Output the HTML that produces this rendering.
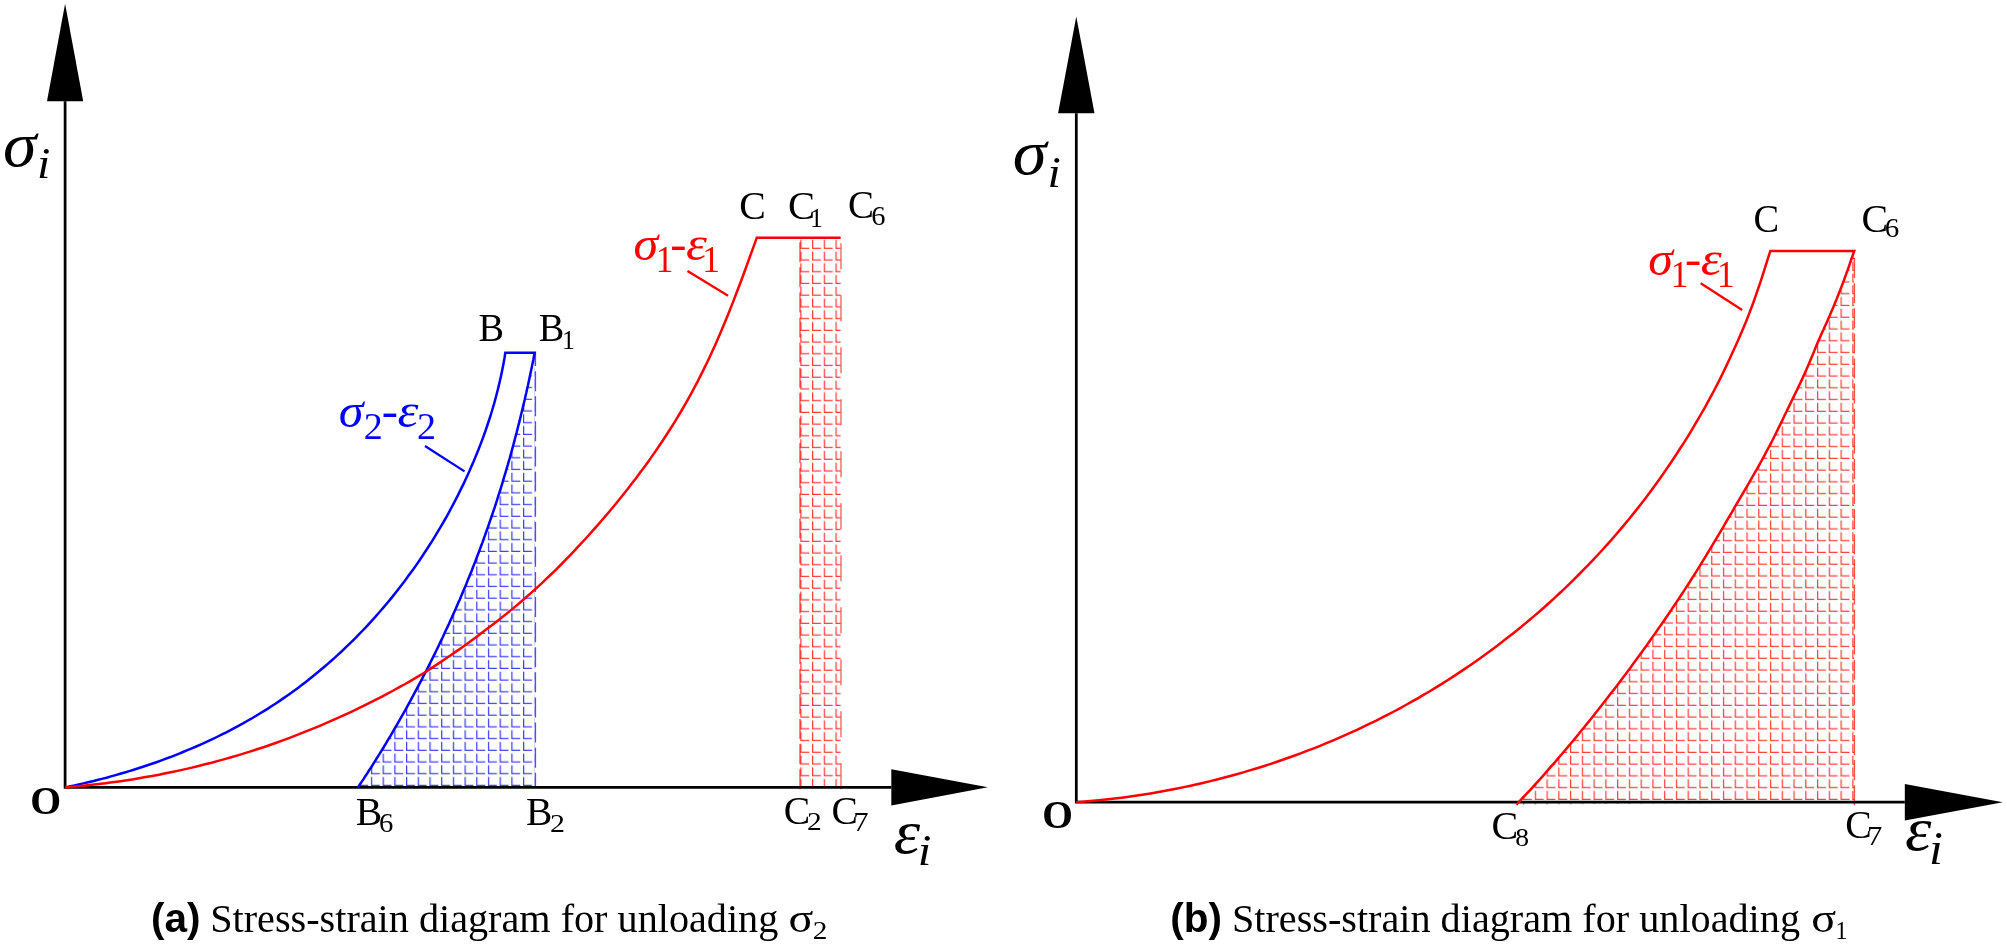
<!DOCTYPE html>
<html lang="en"><head><meta charset="utf-8"><title>Stress-strain diagrams</title>
<style>html,body{margin:0;padding:0;background:#fff;}body{width:2007px;height:945px;overflow:hidden;}svg{display:block;filter:blur(0.3px);}</style>
</head><body>
<svg width="2007" height="945" viewBox="0 0 2007 945" font-family="'Liberation Serif', serif">
<defs>
<pattern id="hb" patternUnits="userSpaceOnUse" x="441.10" y="727.50" width="11.7" height="11.7"><path d="M0.6,2.70 V11.10 H9.00" fill="none" stroke="#2020f0" stroke-width="1.3" stroke-opacity="0.85"/></pattern>
<pattern id="hr1" patternUnits="userSpaceOnUse" x="800.30" y="237.18" width="11.72" height="11.72"><path d="M0.6,2.72 V11.12 H9.00" fill="none" stroke="#ff1010" stroke-width="1.3" stroke-opacity="0.82"/></pattern>
<pattern id="hr2" patternUnits="userSpaceOnUse" x="1781.70" y="729.44" width="11.76" height="11.76"><path d="M0.6,2.76 V11.16 H9.00" fill="none" stroke="#ff1010" stroke-width="1.3" stroke-opacity="0.8"/></pattern>
</defs>
<rect width="2007" height="945" fill="#fff"/>
<path d="M534.7,352.7 L534.0,356.0 L533.4,359.4 L532.7,362.7 L532.0,366.1 L531.3,369.4 L530.6,372.7 L529.9,376.0 L529.2,379.4 L528.5,382.7 L527.8,386.0 L527.0,389.3 L526.3,392.7 L525.5,396.0 L524.8,399.3 L524.0,402.6 L523.2,405.9 L522.4,409.2 L521.6,412.5 L520.8,415.8 L520.0,419.1 L519.2,422.4 L518.3,425.7 L517.5,429.0 L516.7,432.3 L515.8,435.6 L514.9,438.9 L514.1,442.2 L513.2,445.5 L512.3,448.7 L511.4,452.0 L510.5,455.3 L509.6,458.6 L508.6,461.8 L507.7,465.1 L506.7,468.4 L505.8,471.6 L504.8,474.9 L503.8,478.1 L502.9,481.4 L501.9,484.6 L500.9,487.9 L499.9,491.1 L498.8,494.4 L497.8,497.6 L496.8,500.8 L495.7,504.1 L494.7,507.3 L493.6,510.5 L492.5,513.8 L491.4,517.0 L490.3,520.2 L489.2,523.4 L488.1,526.6 L487.0,529.8 L485.8,533.0 L484.7,536.2 L483.5,539.4 L482.4,542.6 L481.2,545.8 L480.0,549.0 L478.8,552.2 L477.6,555.3 L476.4,558.5 L475.2,561.7 L473.9,564.9 L472.7,568.0 L471.5,571.2 L470.2,574.3 L468.9,577.5 L467.6,580.6 L466.4,583.8 L465.1,586.9 L463.7,590.1 L462.4,593.2 L461.1,596.3 L459.8,599.5 L458.4,602.6 L457.0,605.7 L455.7,608.8 L454.3,611.9 L452.9,615.1 L451.5,618.2 L450.1,621.3 L448.7,624.4 L447.3,627.4 L445.8,630.5 L444.4,633.6 L443.0,636.7 L441.5,639.8 L440.0,642.8 L438.6,645.9 L437.1,649.0 L435.6,652.0 L434.1,655.1 L432.6,658.1 L431.0,661.2 L429.5,664.2 L428.0,667.3 L426.5,670.3 L424.9,673.3 L423.3,676.3 L421.8,679.4 L420.2,682.4 L418.6,685.4 L417.0,688.4 L415.4,691.4 L413.8,694.4 L412.2,697.4 L410.6,700.4 L409.0,703.3 L407.3,706.3 L405.7,709.3 L404.0,712.3 L402.4,715.2 L400.7,718.2 L399.0,721.1 L397.3,724.1 L395.6,727.0 L393.9,729.9 L392.2,732.9 L390.5,735.8 L388.7,738.7 L387.0,741.6 L385.2,744.6 L383.5,747.5 L381.7,750.4 L379.9,753.3 L378.1,756.2 L376.3,759.0 L374.5,761.9 L372.7,764.8 L370.9,767.7 L369.0,770.5 L367.2,773.4 L365.3,776.2 L363.5,779.1 L361.6,781.9 L359.7,784.8 L357.8,787.6 L534.7,787.3Z" fill="url(#hb)"/>
<rect x="799.8" y="237.7" width="40.8" height="549.6" fill="url(#hr1)"/>
<path d="M1854.2,250.9 L1852.7,255.3 L1851.2,259.7 L1849.7,264.1 L1848.2,268.5 L1846.6,272.9 L1845.0,277.3 L1843.4,281.7 L1841.7,286.1 L1840.0,290.4 L1838.3,294.8 L1836.6,299.2 L1834.8,303.5 L1833.0,307.9 L1831.1,312.2 L1829.3,316.6 L1827.4,320.9 L1825.4,325.2 L1823.5,329.6 L1821.5,333.9 L1819.6,338.2 L1817.7,342.5 L1815.9,346.8 L1814.2,351.1 L1812.4,355.4 L1810.6,359.7 L1808.8,364.0 L1807.0,368.3 L1805.1,372.6 L1803.2,376.8 L1801.2,381.1 L1799.2,385.3 L1797.2,389.6 L1795.1,393.8 L1793.0,398.1 L1791.0,402.3 L1788.9,406.6 L1786.9,410.8 L1784.8,415.0 L1782.8,419.2 L1780.8,423.4 L1778.7,427.6 L1776.7,431.8 L1774.6,436.0 L1772.5,440.2 L1770.3,444.4 L1768.1,448.5 L1765.9,452.7 L1763.7,456.8 L1761.4,461.0 L1759.1,465.1 L1756.8,469.3 L1754.4,473.4 L1752.1,477.5 L1749.7,481.7 L1747.3,485.8 L1744.9,489.9 L1742.5,494.0 L1740.1,498.1 L1737.7,502.2 L1735.3,506.2 L1733.0,510.3 L1730.6,514.4 L1728.2,518.4 L1725.8,522.5 L1723.5,526.5 L1721.1,530.6 L1718.7,534.6 L1716.3,538.6 L1713.9,542.7 L1711.5,546.7 L1709.1,550.7 L1706.7,554.7 L1704.3,558.7 L1701.8,562.6 L1699.4,566.6 L1696.9,570.6 L1694.4,574.6 L1691.9,578.5 L1689.4,582.5 L1686.8,586.4 L1684.3,590.3 L1681.7,594.3 L1679.1,598.2 L1676.5,602.1 L1673.9,606.0 L1671.3,609.9 L1668.7,613.8 L1666.0,617.7 L1663.4,621.5 L1660.7,625.4 L1658.0,629.2 L1655.3,633.1 L1652.6,636.9 L1649.9,640.8 L1647.2,644.6 L1644.4,648.4 L1641.7,652.2 L1638.9,656.0 L1636.2,659.8 L1633.4,663.6 L1630.6,667.4 L1627.8,671.2 L1625.0,674.9 L1622.1,678.7 L1619.3,682.4 L1616.5,686.2 L1613.6,689.9 L1610.7,693.6 L1607.9,697.3 L1605.0,701.0 L1602.1,704.7 L1599.2,708.4 L1596.3,712.1 L1593.4,715.7 L1590.5,719.4 L1587.5,723.1 L1584.6,726.7 L1581.6,730.3 L1578.7,734.0 L1575.7,737.6 L1572.7,741.2 L1569.7,744.8 L1566.7,748.4 L1563.6,752.0 L1560.6,755.5 L1557.5,759.1 L1554.5,762.7 L1551.4,766.2 L1548.3,769.7 L1545.2,773.3 L1542.1,776.8 L1538.9,780.3 L1535.7,783.8 L1532.6,787.3 L1529.4,790.8 L1526.2,794.2 L1522.9,797.7 L1519.7,801.2 L1516.4,804.6 L1854.2,802.2Z" fill="url(#hr2)"/>
<line x1="535.4" y1="352.7" x2="535.4" y2="787.3" stroke="#2222ee" stroke-width="1.4" stroke-opacity="0.8" stroke-dasharray="20 5.1" stroke-dashoffset="6.65"/>
<line x1="800.0" y1="237.7" x2="800.0" y2="789.3" stroke="#ff0000" stroke-width="1.4" stroke-opacity="0.7" stroke-dasharray="20 5.1" stroke-dashoffset="20.6"/>
<line x1="841.0" y1="237.7" x2="841.0" y2="789.3" stroke="#ff0000" stroke-width="1.4" stroke-opacity="0.6" stroke-dasharray="26 26" stroke-dashoffset="46.4"/>
<line x1="1854.4" y1="250.9" x2="1854.4" y2="805.2" stroke="#ff0000" stroke-width="1.4" stroke-opacity="0.7" stroke-dasharray="20 5.1" stroke-dashoffset="17.9"/>
<path d="M65.1,101.2 V787.3 H891.3" fill="none" stroke="#000" stroke-width="2.75" stroke-linejoin="miter"/><polygon points="65.1,3.8 46.99999999999999,101.2 83.19999999999999,101.2" fill="#000"/><polygon points="987.8,787.3 891.3,769.1999999999999 891.3,805.4" fill="#000"/>
<path d="M1076.3,113.3 V802.2 H1904.8" fill="none" stroke="#000" stroke-width="2.75" stroke-linejoin="miter"/><polygon points="1076.3,16.5 1058.1,113.3 1094.5,113.3" fill="#000"/><polygon points="2002.8,802.2 1904.8,784.0 1904.8,820.4000000000001" fill="#000"/>
<path d="M65.1,787.4 L69.7,786.4 L74.3,785.5 L78.9,784.4 L83.5,783.4 L88.1,782.3 L92.7,781.2 L97.3,780.0 L101.9,778.9 L106.5,777.7 L111.0,776.4 L115.6,775.1 L120.2,773.8 L124.7,772.5 L129.3,771.1 L133.8,769.7 L138.3,768.3 L142.9,766.8 L147.4,765.3 L151.9,763.8 L156.4,762.2 L160.8,760.6 L165.3,758.9 L169.8,757.3 L174.2,755.6 L178.6,753.8 L183.0,752.0 L187.4,750.2 L191.8,748.4 L196.2,746.5 L200.5,744.6 L204.9,742.6 L209.2,740.6 L213.5,738.6 L217.8,736.5 L222.0,734.4 L226.3,732.3 L230.5,730.1 L234.7,727.9 L238.9,725.6 L243.0,723.4 L247.1,721.0 L251.3,718.7 L255.3,716.3 L259.4,713.8 L263.4,711.4 L267.5,708.9 L271.4,706.3 L275.4,703.7 L279.3,701.1 L283.2,698.4 L287.1,695.7 L291.0,693.0 L294.8,690.2 L298.6,687.4 L302.4,684.5 L306.1,681.7 L309.8,678.7 L313.5,675.8 L317.2,672.8 L320.8,669.8 L324.4,666.7 L328.0,663.6 L331.6,660.5 L335.1,657.4 L338.6,654.2 L342.1,651.0 L345.5,647.7 L348.9,644.4 L352.3,641.1 L355.6,637.8 L358.9,634.4 L362.2,631.0 L365.5,627.6 L368.7,624.1 L371.9,620.6 L375.1,617.1 L378.2,613.5 L381.3,610.0 L384.4,606.4 L387.5,602.7 L390.5,599.1 L393.5,595.4 L396.4,591.7 L399.3,588.0 L402.2,584.2 L405.1,580.4 L407.9,576.6 L410.7,572.8 L413.5,568.9 L416.2,565.1 L418.9,561.2 L421.6,557.2 L424.2,553.3 L426.8,549.3 L429.4,545.3 L431.9,541.3 L434.4,537.3 L436.9,533.2 L439.3,529.2 L441.7,525.1 L444.1,521.0 L446.5,516.8 L448.8,512.7 L451.0,508.5 L453.2,504.3 L455.4,500.1 L457.6,495.9 L459.7,491.6 L461.8,487.4 L463.9,483.1 L465.9,478.8 L467.9,474.5 L469.8,470.2 L471.7,465.8 L473.6,461.5 L475.4,457.1 L477.2,452.7 L479.0,448.3 L480.7,443.9 L482.4,439.4 L484.0,435.0 L485.6,430.5 L487.1,426.0 L488.6,421.5 L490.1,417.0 L491.5,412.5 L492.8,408.0 L494.2,403.4 L495.4,398.9 L496.6,394.3 L497.8,389.7 L498.9,385.1 L500.0,380.5 L501.0,375.9 L502.0,371.3 L502.9,366.7 L503.8,362.0 L504.6,357.4 L505.3,352.7 L534.7,352.7 L534.7,352.7 L534.0,356.0 L533.4,359.4 L532.7,362.7 L532.0,366.1 L531.3,369.4 L530.6,372.7 L529.9,376.0 L529.2,379.4 L528.5,382.7 L527.8,386.0 L527.0,389.3 L526.3,392.7 L525.5,396.0 L524.8,399.3 L524.0,402.6 L523.2,405.9 L522.4,409.2 L521.6,412.5 L520.8,415.8 L520.0,419.1 L519.2,422.4 L518.3,425.7 L517.5,429.0 L516.7,432.3 L515.8,435.6 L514.9,438.9 L514.1,442.2 L513.2,445.5 L512.3,448.7 L511.4,452.0 L510.5,455.3 L509.6,458.6 L508.6,461.8 L507.7,465.1 L506.7,468.4 L505.8,471.6 L504.8,474.9 L503.8,478.1 L502.9,481.4 L501.9,484.6 L500.9,487.9 L499.9,491.1 L498.8,494.4 L497.8,497.6 L496.8,500.8 L495.7,504.1 L494.7,507.3 L493.6,510.5 L492.5,513.8 L491.4,517.0 L490.3,520.2 L489.2,523.4 L488.1,526.6 L487.0,529.8 L485.8,533.0 L484.7,536.2 L483.5,539.4 L482.4,542.6 L481.2,545.8 L480.0,549.0 L478.8,552.2 L477.6,555.3 L476.4,558.5 L475.2,561.7 L473.9,564.9 L472.7,568.0 L471.5,571.2 L470.2,574.3 L468.9,577.5 L467.6,580.6 L466.4,583.8 L465.1,586.9 L463.7,590.1 L462.4,593.2 L461.1,596.3 L459.8,599.5 L458.4,602.6 L457.0,605.7 L455.7,608.8 L454.3,611.9 L452.9,615.1 L451.5,618.2 L450.1,621.3 L448.7,624.4 L447.3,627.4 L445.8,630.5 L444.4,633.6 L443.0,636.7 L441.5,639.8 L440.0,642.8 L438.6,645.9 L437.1,649.0 L435.6,652.0 L434.1,655.1 L432.6,658.1 L431.0,661.2 L429.5,664.2 L428.0,667.3 L426.5,670.3 L424.9,673.3 L423.3,676.3 L421.8,679.4 L420.2,682.4 L418.6,685.4 L417.0,688.4 L415.4,691.4 L413.8,694.4 L412.2,697.4 L410.6,700.4 L409.0,703.3 L407.3,706.3 L405.7,709.3 L404.0,712.3 L402.4,715.2 L400.7,718.2 L399.0,721.1 L397.3,724.1 L395.6,727.0 L393.9,729.9 L392.2,732.9 L390.5,735.8 L388.7,738.7 L387.0,741.6 L385.2,744.6 L383.5,747.5 L381.7,750.4 L379.9,753.3 L378.1,756.2 L376.3,759.0 L374.5,761.9 L372.7,764.8 L370.9,767.7 L369.0,770.5 L367.2,773.4 L365.3,776.2 L363.5,779.1 L361.6,781.9 L359.7,784.8 L357.8,787.6" fill="none" stroke="#0000ff" stroke-width="2.5" stroke-linejoin="miter"/>
<path d="M65.1,787.4 L71.8,786.8 L78.6,786.2 L85.3,785.5 L92.0,784.8 L98.7,784.0 L105.4,783.2 L112.1,782.3 L118.8,781.4 L125.5,780.4 L132.2,779.4 L138.9,778.3 L145.6,777.1 L152.2,775.9 L158.9,774.7 L165.5,773.3 L172.1,772.0 L178.7,770.6 L185.4,769.1 L191.9,767.6 L198.5,766.0 L205.1,764.3 L211.6,762.7 L218.2,760.9 L224.7,759.1 L231.2,757.3 L237.7,755.4 L244.2,753.4 L250.6,751.4 L257.1,749.3 L263.5,747.2 L269.9,745.0 L276.3,742.7 L282.7,740.4 L289.0,738.1 L295.3,735.7 L301.6,733.2 L307.9,730.7 L314.2,728.2 L320.4,725.6 L326.6,722.9 L332.8,720.2 L339.0,717.4 L345.2,714.6 L351.3,711.8 L357.4,708.9 L363.5,705.9 L369.5,702.9 L375.5,699.9 L381.5,696.8 L387.5,693.7 L393.4,690.5 L399.3,687.2 L405.2,684.0 L411.1,680.6 L416.9,677.2 L422.7,673.7 L428.4,670.1 L434.1,666.4 L439.8,662.6 L445.5,658.8 L451.1,655.0 L456.7,651.1 L462.3,647.2 L467.8,643.2 L473.3,639.2 L478.7,635.2 L484.1,631.1 L489.5,627.1 L494.9,623.0 L500.2,618.8 L505.4,614.6 L510.6,610.4 L515.8,606.1 L521.0,601.7 L526.1,597.3 L531.1,592.9 L536.1,588.4 L541.1,583.8 L546.0,579.2 L550.9,574.5 L555.8,569.8 L560.6,565.0 L565.3,560.2 L570.0,555.3 L574.7,550.4 L579.3,545.4 L583.9,540.5 L588.5,535.5 L593.0,530.4 L597.5,525.4 L601.9,520.3 L606.3,515.1 L610.7,510.0 L615.0,504.8 L619.3,499.5 L623.5,494.3 L627.7,489.0 L631.8,483.6 L636.0,478.3 L640.0,472.8 L644.0,467.4 L648.0,461.9 L651.9,456.4 L655.8,450.9 L659.6,445.3 L663.3,439.7 L667.0,434.0 L670.7,428.3 L674.3,422.6 L677.8,416.8 L681.3,411.0 L684.7,405.2 L688.0,399.3 L691.3,393.4 L694.5,387.4 L697.7,381.4 L700.7,375.4 L703.7,369.4 L706.7,363.3 L709.6,357.2 L712.4,351.0 L715.2,344.9 L717.9,338.7 L720.6,332.5 L723.2,326.2 L725.8,320.0 L728.4,313.7 L730.9,307.4 L733.4,301.1 L735.8,294.8 L738.2,288.5 L740.6,282.2 L743.0,275.8 L745.3,269.5 L747.6,263.1 L749.9,256.8 L752.2,250.4 L754.5,244.1 L756.8,237.7 L840.6,237.7" fill="none" stroke="#ff0000" stroke-width="2.5" stroke-linejoin="miter"/>
<path d="M1076.3,802.2 L1083.1,801.7 L1089.9,801.1 L1096.6,800.5 L1103.4,799.8 L1110.2,799.0 L1116.9,798.2 L1123.7,797.4 L1130.4,796.5 L1137.1,795.5 L1143.8,794.5 L1150.6,793.4 L1157.3,792.3 L1163.9,791.1 L1170.6,789.8 L1177.3,788.5 L1183.9,787.1 L1190.6,785.7 L1197.2,784.2 L1203.8,782.7 L1210.4,781.1 L1217.0,779.5 L1223.6,777.8 L1230.2,776.0 L1236.7,774.2 L1243.2,772.4 L1249.7,770.4 L1256.2,768.5 L1262.7,766.5 L1269.2,764.4 L1275.6,762.2 L1282.0,760.0 L1288.4,757.8 L1294.8,755.5 L1301.2,753.2 L1307.5,750.7 L1313.8,748.3 L1320.1,745.8 L1326.4,743.2 L1332.7,740.6 L1338.9,737.9 L1345.1,735.2 L1351.3,732.4 L1357.5,729.6 L1363.6,726.7 L1369.7,723.7 L1375.8,720.8 L1381.9,717.7 L1387.9,714.6 L1393.9,711.5 L1399.9,708.3 L1405.8,705.0 L1411.8,701.7 L1417.7,698.3 L1423.5,694.9 L1429.4,691.5 L1435.2,687.9 L1441.0,684.4 L1446.7,680.7 L1452.4,677.1 L1458.1,673.4 L1463.7,669.6 L1469.4,665.8 L1474.9,661.9 L1480.5,658.0 L1486.0,654.0 L1491.5,650.0 L1496.9,645.9 L1502.3,641.8 L1507.7,637.6 L1513.0,633.4 L1518.3,629.2 L1523.6,624.9 L1528.8,620.5 L1534.0,616.1 L1539.2,611.7 L1544.3,607.2 L1549.3,602.7 L1554.4,598.1 L1559.3,593.5 L1564.3,588.8 L1569.2,584.1 L1574.0,579.3 L1578.9,574.5 L1583.6,569.7 L1588.4,564.8 L1593.1,559.9 L1597.7,555.0 L1602.3,550.0 L1606.9,544.9 L1611.4,539.9 L1615.8,534.7 L1620.2,529.6 L1624.6,524.4 L1628.9,519.2 L1633.2,513.9 L1637.4,508.6 L1641.6,503.2 L1645.7,497.9 L1649.8,492.4 L1653.8,487.0 L1657.8,481.5 L1661.7,476.0 L1665.6,470.4 L1669.4,464.8 L1673.2,459.2 L1676.9,453.5 L1680.6,447.8 L1684.3,442.1 L1687.9,436.4 L1691.4,430.6 L1694.9,424.7 L1698.3,418.9 L1701.7,413.0 L1705.1,407.1 L1708.3,401.2 L1711.6,395.2 L1714.7,389.2 L1717.9,383.2 L1720.9,377.1 L1723.9,371.0 L1726.8,364.9 L1729.7,358.8 L1732.5,352.6 L1735.3,346.4 L1738.1,340.2 L1740.8,334.0 L1743.5,327.7 L1746.1,321.5 L1748.6,315.1 L1751.0,308.8 L1753.4,302.5 L1755.6,296.1 L1757.8,289.7 L1760.0,283.3 L1762.1,276.8 L1764.2,270.4 L1766.2,263.9 L1768.3,257.4 L1770.3,250.9 L1854.2,250.9 L1854.2,250.9 L1852.7,255.3 L1851.2,259.7 L1849.7,264.1 L1848.2,268.5 L1846.6,272.9 L1845.0,277.3 L1843.4,281.7 L1841.7,286.1 L1840.0,290.4 L1838.3,294.8 L1836.6,299.2 L1834.8,303.5 L1833.0,307.9 L1831.1,312.2 L1829.3,316.6 L1827.4,320.9 L1825.4,325.2 L1823.5,329.6 L1821.5,333.9 L1819.6,338.2 L1817.7,342.5 L1815.9,346.8 L1814.2,351.1 L1812.4,355.4 L1810.6,359.7 L1808.8,364.0 L1807.0,368.3 L1805.1,372.6 L1803.2,376.8 L1801.2,381.1 L1799.2,385.3 L1797.2,389.6 L1795.1,393.8 L1793.0,398.1 L1791.0,402.3 L1788.9,406.6 L1786.9,410.8 L1784.8,415.0 L1782.8,419.2 L1780.8,423.4 L1778.7,427.6 L1776.7,431.8 L1774.6,436.0 L1772.5,440.2 L1770.3,444.4 L1768.1,448.5 L1765.9,452.7 L1763.7,456.8 L1761.4,461.0 L1759.1,465.1 L1756.8,469.3 L1754.4,473.4 L1752.1,477.5 L1749.7,481.7 L1747.3,485.8 L1744.9,489.9 L1742.5,494.0 L1740.1,498.1 L1737.7,502.2 L1735.3,506.2 L1733.0,510.3 L1730.6,514.4 L1728.2,518.4 L1725.8,522.5 L1723.5,526.5 L1721.1,530.6 L1718.7,534.6 L1716.3,538.6 L1713.9,542.7 L1711.5,546.7 L1709.1,550.7 L1706.7,554.7 L1704.3,558.7 L1701.8,562.6 L1699.4,566.6 L1696.9,570.6 L1694.4,574.6 L1691.9,578.5 L1689.4,582.5 L1686.8,586.4 L1684.3,590.3 L1681.7,594.3 L1679.1,598.2 L1676.5,602.1 L1673.9,606.0 L1671.3,609.9 L1668.7,613.8 L1666.0,617.7 L1663.4,621.5 L1660.7,625.4 L1658.0,629.2 L1655.3,633.1 L1652.6,636.9 L1649.9,640.8 L1647.2,644.6 L1644.4,648.4 L1641.7,652.2 L1638.9,656.0 L1636.2,659.8 L1633.4,663.6 L1630.6,667.4 L1627.8,671.2 L1625.0,674.9 L1622.1,678.7 L1619.3,682.4 L1616.5,686.2 L1613.6,689.9 L1610.7,693.6 L1607.9,697.3 L1605.0,701.0 L1602.1,704.7 L1599.2,708.4 L1596.3,712.1 L1593.4,715.7 L1590.5,719.4 L1587.5,723.1 L1584.6,726.7 L1581.6,730.3 L1578.7,734.0 L1575.7,737.6 L1572.7,741.2 L1569.7,744.8 L1566.7,748.4 L1563.6,752.0 L1560.6,755.5 L1557.5,759.1 L1554.5,762.7 L1551.4,766.2 L1548.3,769.7 L1545.2,773.3 L1542.1,776.8 L1538.9,780.3 L1535.7,783.8 L1532.6,787.3 L1529.4,790.8 L1526.2,794.2 L1522.9,797.7 L1519.7,801.2 L1516.4,804.6" fill="none" stroke="#ff0000" stroke-width="2.5" stroke-linejoin="miter"/>
<line x1="425" y1="446" x2="464.5" y2="471.4" stroke="#0000ff" stroke-width="2.3"/>
<line x1="687.5" y1="271" x2="728.1" y2="295.8" stroke="#ff0000" stroke-width="2.3"/>
<line x1="1700.7" y1="283.3" x2="1742.2" y2="310" stroke="#ff0000" stroke-width="2.3"/>
<text><tspan x="2.91" y="166.01" font-size="63.98" font-style="italic" textLength="33.48" lengthAdjust="spacingAndGlyphs">σ</tspan><tspan x="36.92" y="178.15" font-size="43.94" font-style="italic" textLength="13.31" lengthAdjust="spacingAndGlyphs">i</tspan></text>
<text><tspan x="1012.69" y="174.11" font-size="63.98" font-style="italic" textLength="33.88" lengthAdjust="spacingAndGlyphs">σ</tspan><tspan x="1047.44" y="187.45" font-size="43.79" font-style="italic" textLength="13.27" lengthAdjust="spacingAndGlyphs">i</tspan></text>
<text><tspan x="893.72" y="852.54" font-size="61.46" font-style="italic" textLength="26.40" lengthAdjust="spacingAndGlyphs">ε</tspan><tspan x="917.89" y="865.25" font-size="44.70" font-style="italic" textLength="13.54" lengthAdjust="spacingAndGlyphs">i</tspan></text>
<text><tspan x="1905.02" y="850.44" font-size="61.46" font-style="italic" textLength="26.40" lengthAdjust="spacingAndGlyphs">ε</tspan><tspan x="1928.97" y="864.45" font-size="45.76" font-style="italic" textLength="13.86" lengthAdjust="spacingAndGlyphs">i</tspan></text>
<text><tspan x="30.36" y="813.85" font-size="39.70" font-weight="bold">O</tspan></text>
<text><tspan x="1042.29" y="828.36" font-size="39.40" font-weight="bold">O</tspan></text>
<text><tspan x="478.50" y="341.15" font-size="39.39" textLength="25.55" lengthAdjust="spacingAndGlyphs">B</tspan></text>
<text><tspan x="538.80" y="341.15" font-size="39.39" textLength="25.55" lengthAdjust="spacingAndGlyphs">B</tspan><tspan x="561.89" y="348.75" font-size="27.63" textLength="12.85" lengthAdjust="spacingAndGlyphs">1</tspan></text>
<text><tspan x="739.26" y="219.25" font-size="40.45" textLength="26.56" lengthAdjust="spacingAndGlyphs">C</tspan></text>
<text><tspan x="788.04" y="219.04" font-size="40.60">C</tspan><tspan x="809.99" y="226.55" font-size="27.63" textLength="12.85" lengthAdjust="spacingAndGlyphs">1</tspan></text>
<text><tspan x="848.09" y="218.44" font-size="40.60" textLength="25.98" lengthAdjust="spacingAndGlyphs">C</tspan><tspan x="871.27" y="224.68" font-size="26.57" textLength="14.24" lengthAdjust="spacingAndGlyphs">6</tspan></text>
<text><tspan x="355.68" y="824.65" font-size="39.69">B</tspan><tspan x="378.96" y="831.59" font-size="26.27" textLength="14.35" lengthAdjust="spacingAndGlyphs">6</tspan></text>
<text><tspan x="526.08" y="825.05" font-size="39.54">B</tspan><tspan x="550.03" y="831.85" font-size="25.76" textLength="14.94" lengthAdjust="spacingAndGlyphs">2</tspan></text>
<text><tspan x="783.76" y="824.25" font-size="40.30" textLength="26.45" lengthAdjust="spacingAndGlyphs">C</tspan><tspan x="806.92" y="830.35" font-size="25.61" textLength="14.75" lengthAdjust="spacingAndGlyphs">2</tspan></text>
<text><tspan x="831.47" y="824.25" font-size="40.30" textLength="26.33" lengthAdjust="spacingAndGlyphs">C</tspan><tspan x="853.26" y="831.08" font-size="26.92" textLength="15.31" lengthAdjust="spacingAndGlyphs">7</tspan></text>
<text><tspan x="1753.41" y="231.85" font-size="39.85" textLength="25.63" lengthAdjust="spacingAndGlyphs">C</tspan></text>
<text><tspan x="1861.56" y="231.85" font-size="39.85">C</tspan><tspan x="1884.75" y="237.19" font-size="26.42" textLength="14.47" lengthAdjust="spacingAndGlyphs">6</tspan></text>
<text><tspan x="1491.47" y="839.45" font-size="40.00">C</tspan><tspan x="1515.25" y="846.29" font-size="25.78" textLength="13.81" lengthAdjust="spacingAndGlyphs">8</tspan></text>
<text><tspan x="1845.27" y="838.25" font-size="39.70">C</tspan><tspan x="1867.06" y="844.89" font-size="27.85" textLength="15.31" lengthAdjust="spacingAndGlyphs">7</tspan></text>
<text fill="#ff0000"><tspan x="633.45" y="260.26" font-size="48.52" font-style="italic" textLength="24.71" lengthAdjust="spacingAndGlyphs">σ</tspan><tspan x="655.87" y="272.45" font-size="37.86" textLength="17.61" lengthAdjust="spacingAndGlyphs">1</tspan><tspan x="670.29" y="258.30" font-size="40.00" font-weight="bold" textLength="16.27" lengthAdjust="spacingAndGlyphs">-</tspan><tspan x="685.99" y="260.26" font-size="48.96" font-style="italic" textLength="20.98" lengthAdjust="spacingAndGlyphs">ε</tspan><tspan x="702.32" y="272.45" font-size="37.86" textLength="17.61" lengthAdjust="spacingAndGlyphs">1</tspan></text>
<text fill="#ff0000"><tspan x="1648.25" y="275.16" font-size="48.52" font-style="italic" textLength="24.71" lengthAdjust="spacingAndGlyphs">σ</tspan><tspan x="1670.67" y="287.35" font-size="37.86" textLength="17.61" lengthAdjust="spacingAndGlyphs">1</tspan><tspan x="1685.09" y="273.20" font-size="40.00" font-weight="bold" textLength="16.27" lengthAdjust="spacingAndGlyphs">-</tspan><tspan x="1700.79" y="275.16" font-size="48.96" font-style="italic" textLength="20.98" lengthAdjust="spacingAndGlyphs">ε</tspan><tspan x="1717.12" y="287.35" font-size="37.86" textLength="17.61" lengthAdjust="spacingAndGlyphs">1</tspan></text>
<text fill="#0000ff"><tspan x="338.85" y="426.56" font-size="48.52" font-style="italic" textLength="24.71" lengthAdjust="spacingAndGlyphs">σ</tspan><tspan x="363.74" y="438.55" font-size="37.27" textLength="19.00" lengthAdjust="spacingAndGlyphs">2</tspan><tspan x="381.89" y="424.60" font-size="40.00" font-weight="bold" textLength="16.27" lengthAdjust="spacingAndGlyphs">-</tspan><tspan x="397.59" y="426.56" font-size="48.96" font-style="italic" textLength="20.98" lengthAdjust="spacingAndGlyphs">ε</tspan><tspan x="416.94" y="438.55" font-size="37.27" textLength="19.00" lengthAdjust="spacingAndGlyphs">2</tspan></text>
<text xml:space="preserve"><tspan x="151.0" y="931.7" font-family="'Liberation Sans', sans-serif" font-weight="bold" font-size="40.5">(a)</tspan><tspan x="200.15" y="931.7" font-size="40.2"> Stress-strain diagram for unloading </tspan><tspan x="788.40" y="931.85" font-size="39.83" textLength="24.91" lengthAdjust="spacingAndGlyphs">σ</tspan><tspan x="812.86" y="939.45" font-size="25.30" textLength="14.68" lengthAdjust="spacingAndGlyphs">2</tspan></text>
<text xml:space="preserve"><tspan x="1170.2" y="931.7" font-family="'Liberation Sans', sans-serif" font-weight="bold" font-size="40.5">(b)</tspan><tspan x="1221.85" y="931.7" font-size="40.2"> Stress-strain diagram for unloading </tspan><tspan x="1811.30" y="931.85" font-size="39.83" textLength="24.91" lengthAdjust="spacingAndGlyphs">σ</tspan><tspan x="1835.52" y="939.45" font-size="25.50" textLength="11.86" lengthAdjust="spacingAndGlyphs">1</tspan></text>
</svg>
</body></html>
